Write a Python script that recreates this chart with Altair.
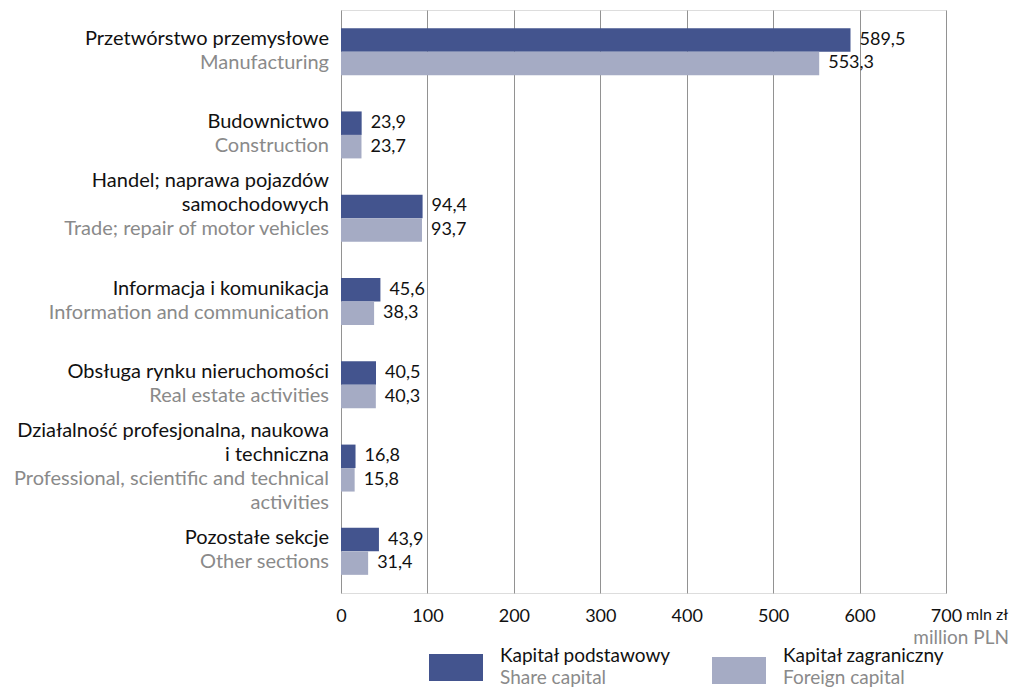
import altair as alt
import pandas as pd

# ---- data ----
keys = ["manu", "constr", "trade", "info", "real", "prof", "other"]
labels_pl = [
    "Przetwórstwo przemysłowe",
    "Budownictwo",
    "Handel; naprawa pojazdów\nsamochodowych",
    "Informacja i komunikacja",
    "Obsługa rynku nieruchomości",
    "Działalność profesjonalna, naukowa\ni techniczna",
    "Pozostałe sekcje",
]
labels_en = [
    "Manufacturing",
    "Construction",
    "Trade; repair of motor vehicles",
    "Information and communication",
    "Real estate activities",
    "Professional, scientific and technical\nactivities",
    "Other sections",
]
share_capital = [589.5, 23.9, 94.4, 45.6, 40.5, 16.8, 43.9]
foreign_capital = [553.3, 23.7, 93.7, 38.3, 40.3, 15.8, 31.4]
series = ["Kapitał podstawowy", "Kapitał zagraniczny"]
series_en = ["Share capital", "Foreign capital"]
x_ticks = [0, 100, 200, 300, 400, 500, 600, 700]

# ---- styling ----
FONT = "Lato"
TXT = 20
NUM = 18
LEG = 19
DARK = "#43548e"
LIGHT = "#a5abc4"
GRAY = "#8a8a8a"
BLACK = "#111111"
W, H = 605, 583
LH = 24

rows = []
for k, s, f in zip(keys, share_capital, foreign_capital):
    rows.append({"key": k, "series": series[0], "value": s})
    rows.append({"key": k, "series": series[1], "value": f})
bars_df = pd.DataFrame(rows)
bars_df["label"] = bars_df["value"].map(lambda v: f"{v:.1f}".replace(".", ","))

cat_df = pd.DataFrame({"key": keys, "pl": labels_pl, "en": labels_en})
cat_df["pl_last"] = cat_df["pl"].map(lambda t: t.split("\n")[-1])
cat_df["pl_above"] = cat_df["pl"].map(lambda t: "\n".join(t.split("\n")[:-1]))
cat_df["en_first"] = cat_df["en"].map(lambda t: t.split("\n")[0])
cat_df["en_below"] = cat_df["en"].map(lambda t: "\n".join(t.split("\n")[1:]))

y_enc = alt.Y("key:N", sort=keys, axis=None,
              scale=alt.Scale(paddingInner=0.436, paddingOuter=0.218))
x_enc = alt.X("value:Q",
              scale=alt.Scale(domain=[0, 700], nice=False),
              axis=alt.Axis(values=x_ticks, title=None, grid=True, gridColor="#929292",
                            gridWidth=1, domain=False, ticks=False, labelFlush=False,
                            labelFont=FONT, labelFontSize=NUM, labelColor=BLACK,
                            labelPadding=14))
yoff_enc = alt.YOffset("series:N", sort=series)
color_enc = alt.Color("series:N", scale=alt.Scale(domain=series, range=[DARK, LIGHT]),
                      legend=None)
y_plain = alt.Y("key:N", sort=keys)

bars = alt.Chart(bars_df).mark_bar().encode(
    x=x_enc, y=y_enc, yOffset=yoff_enc, color=color_enc
)

values = alt.Chart(bars_df).mark_text(
    align="left", baseline="middle", dx=9, font=FONT, fontSize=NUM, color=BLACK
).encode(
    x="value:Q", y=y_plain, yOffset=yoff_enc, text="label:N"
)


def label_layer(field, baseline, dy, color):
    return alt.Chart(cat_df).mark_text(
        align="right", baseline=baseline, dy=dy, font=FONT, fontSize=TXT,
        color=color, lineBreak="\n", lineHeight=LH
    ).encode(x=alt.value(-12), y=y_plain, text=f"{field}:N")


lab_pl_last = label_layer("pl_last", "bottom", -3, BLACK)
lab_pl_above = label_layer("pl_above", "bottom", -3 - LH, BLACK)
lab_en_first = label_layer("en_first", "top", 1, GRAY)
lab_en_below = label_layer("en_below", "top", 1 + LH, GRAY)

unit_pl = alt.Chart().mark_text(
    align="left", baseline="middle", dx=20, font=FONT, fontSize=16, color=BLACK
).encode(x=alt.datum(700), y=alt.value(H + 22), text=alt.value("mln zł"))

unit_en = alt.Chart().mark_text(
    align="right", baseline="middle", dx=63, font=FONT, fontSize=LEG, color=GRAY
).encode(x=alt.datum(700), y=alt.value(H + 45), text=alt.value("million PLN"))

legend_layers = []
for i, (xs, ys, col) in enumerate([(88, 61, DARK), (371, 64, LIGHT)]):
    legend_layers.append(
        alt.Chart().mark_rect(color=col).encode(
            x=alt.value(xs), x2=alt.value(xs + 54),
            y=alt.value(H + ys), y2=alt.value(H + ys + 27)
        )
    )
    legend_layers.append(
        alt.Chart().mark_text(align="left", baseline="middle", font=FONT,
                              fontSize=LEG, color=BLACK).encode(
            x=alt.value(xs + 71), y=alt.value(H + 63), text=alt.value(series[i])
        )
    )
    legend_layers.append(
        alt.Chart().mark_text(align="left", baseline="middle", font=FONT,
                              fontSize=LEG, color=GRAY).encode(
            x=alt.value(xs + 71), y=alt.value(H + 85), text=alt.value(series_en[i])
        )
    )

chart = alt.layer(
    bars, values, lab_pl_last, lab_pl_above, lab_en_first, lab_en_below,
    unit_pl, unit_en, *legend_layers
).properties(
    width=W, height=H,
    autosize=alt.AutoSizeParams(type="none"),
    padding={"left": 333, "top": 2, "right": 65, "bottom": 96},
).configure_view(stroke=None).configure(font=FONT)

chart.save("out.html", embed_options={"renderer": "svg", "actions": False})
